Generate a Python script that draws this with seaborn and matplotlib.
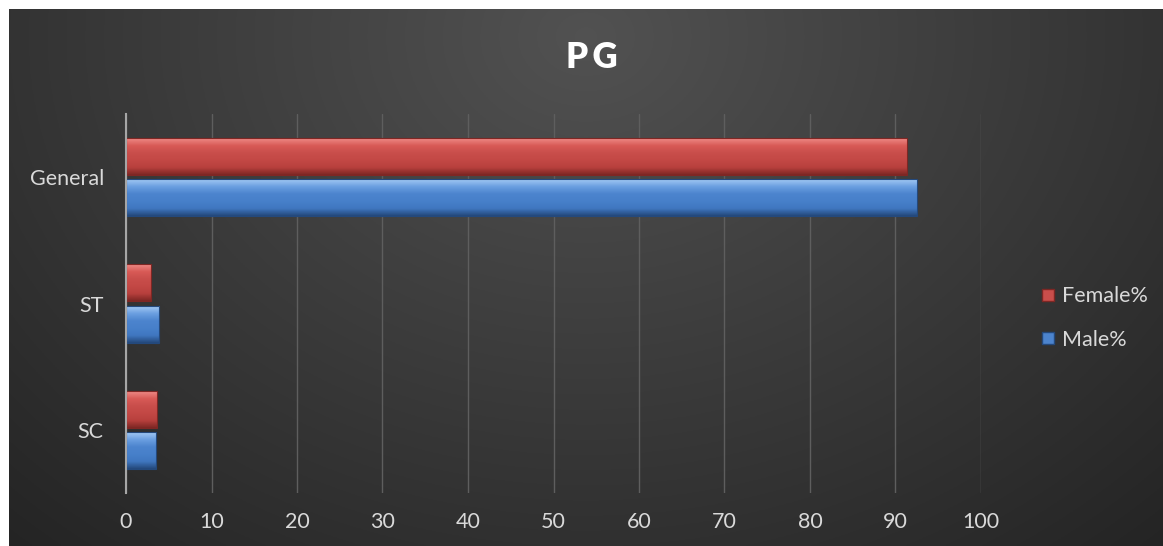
import numpy as np
import pandas as pd
import matplotlib
matplotlib.use("Agg")
import matplotlib.pyplot as plt
import seaborn as sns
from matplotlib.colors import LinearSegmentedColormap, to_hex
from matplotlib.lines import Line2D

categories = ["General", "ST", "SC"]
female_pct = [91.3, 2.9, 3.6]
male_pct = [92.5, 3.9, 3.5]
series_names = ["Female%", "Male%"]
x_ticks = [0, 10, 20, 30, 40, 50, 60, 70, 80, 90, 100]

df = pd.DataFrame({
    "Category": categories * 2,
    "Value": female_pct + male_pct,
    "Series": [series_names[0]] * len(categories) + [series_names[1]] * len(categories),
})

sns.set_theme(style="white")
plt.rcParams["font.family"] = ["Lato", "DejaVu Sans"]

W, H = 1163, 546
fig = plt.figure(figsize=(W / 100, H / 100), dpi=100)
fig.patch.set_facecolor("white")

# background with radial gradient
bg = fig.add_axes([9 / W, 0, (W - 9) / W, (H - 9) / H])
yy, xx = np.mgrid[0:1:300j, 0:1:600j]
d = np.sqrt(((xx - 0.5) / 0.75) ** 2 + ((yy - 0.05) / 1.3) ** 2)
val = np.clip(0.32 - 0.18 * d, 0.14, 0.32)
bg.imshow(np.dstack([val, val, val]), aspect="auto", extent=[0, 1, 0, 1], origin="upper")
bg.set_axis_off()

ax = fig.add_axes([126 / W, 53 / H, (981 - 126) / W, (493 - 114) / H])
ax.patch.set_alpha(0)

palette = {"Female%": "#C94E4B", "Male%": "#4C84CE"}
sns.barplot(data=df, y="Category", x="Value", hue="Series", order=categories,
            hue_order=series_names, palette=palette, orient="h", width=0.65,
            gap=0.1, ax=ax, legend=False, saturation=1, zorder=3)

# bevel-like vertical gradient on bars
ramps = {
    "#c94e4b": ["#EE8A86", "#D85A56", "#C94E4B", "#C34845", "#B8403D", "#7E2724"],
    "#4c84ce": ["#A2C8F4", "#6A9EE0", "#4C84CE", "#4780CA", "#4077C0", "#24497C"],
}
edges = {"#c94e4b": "#7E2724", "#4c84ce": "#24497C"}
for p in list(ax.patches):
    x0, y0 = p.get_x(), p.get_y()
    w, h = p.get_width(), p.get_height()
    fc = to_hex(p.get_facecolor()).lower()
    cmap = LinearSegmentedColormap.from_list("r", ramps[fc])
    grad = np.linspace(0, 1, 64).reshape(-1, 1)
    im = ax.imshow(grad, cmap=cmap, aspect="auto", extent=(x0, x0 + w, y0 + h, y0),
                   origin="upper", zorder=3.5, interpolation="bilinear")
    im.set_clip_path(p)
    p.set_edgecolor(edges[fc])
    p.set_linewidth(0.8)
    p.set_zorder(3.6)
    p.set_facecolor("none")

ax.set_xlim(0, 100)
ax.set_ylim(2.5, -0.5)
ax.set_xticks(x_ticks)
ax.set_xticklabels([str(t) for t in x_ticks])
ax.grid(axis="x", color="#5E5E5E", linewidth=1.0, zorder=0)
ax.set_axisbelow(True)
for s in ["top", "right", "bottom"]:
    ax.spines[s].set_visible(False)
ax.spines["left"].set_color("#A6A6A6")
ax.spines["left"].set_linewidth(1.5)
ax.spines["left"].set_zorder(5)
ax.tick_params(axis="both", length=0, colors="#D9D9D9", labelsize=15.5)
ax.tick_params(axis="x", pad=14)
ax.tick_params(axis="y", pad=16)
ax.set_xlabel("")
ax.set_ylabel("")

fig.text(592 / W, 1 - 57 / H, "P\u2009G", color="white", fontsize=25, fontweight="heavy",
         ha="center", va="center")

# legend
handles = [Line2D([0], [0], marker="s", linestyle="none", markersize=9,
                  markerfacecolor=palette[n], markeredgecolor=edges[palette[n].lower()])
           for n in series_names]
fig.legend(handles, series_names, loc="center left", bbox_to_anchor=(1016 / W, 1 - 318 / H),
           frameon=False, fontsize=15.5, labelcolor="#D9D9D9", handletextpad=0.05,
           labelspacing=1.1, handlelength=1.2)

fig.savefig("out.png", dpi=100, facecolor="white")
